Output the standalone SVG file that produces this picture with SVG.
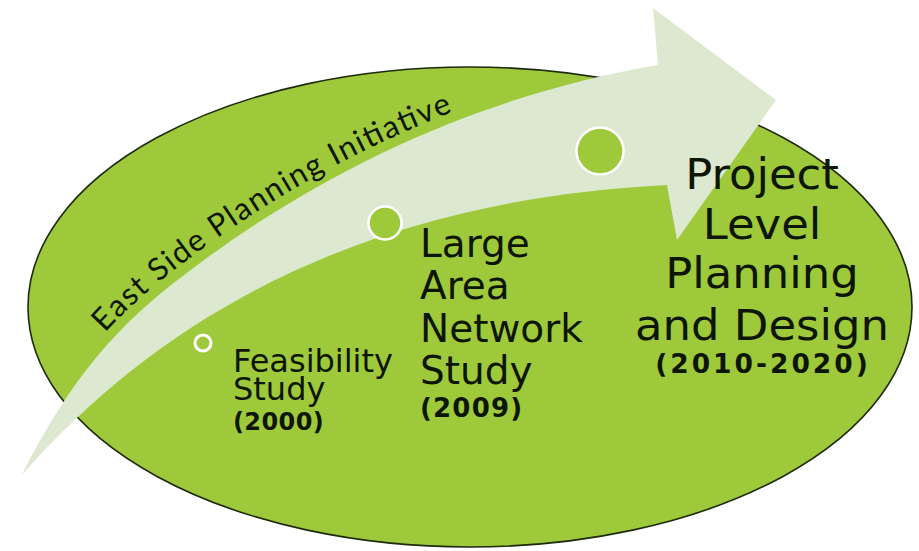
<svg xmlns="http://www.w3.org/2000/svg" xmlns:xlink="http://www.w3.org/1999/xlink" width="919" height="551" viewBox="0 0 919 551">
  <style>
    .lbl { font-family: "DejaVu Sans", Verdana, sans-serif; fill: #0d1505; }
    .yr { font-family: "DejaVu Sans", Verdana, sans-serif; font-weight: bold; fill: #0d1505; }
    .dot { fill: #9ec93b; stroke: #ffffff; }
    .curve { font-family: Lato, "Open Sans", sans-serif; fill: #0d1505; font-size: 31px; }
  </style>
  <defs>
    <path id="textcurve" d="M 13,470.5 C 73,350.5 134,299.4 194,255 C 344,144 506,80.6 656,55"/>
  </defs>
  <rect x="0" y="0" width="919" height="551" fill="#ffffff"/>
  <g id="background">
    <ellipse cx="470" cy="307" rx="442" ry="240" fill="#9ec93b" stroke="#1e2a0c" stroke-width="1.6"/>
  </g>
  <g id="connectors">
    <path id="arrow" d="M 22,475 C 82,355 140,307.4 200,263 C 350,152 508,90.5 658,65 L 653,8 L 776,100 L 677,240 L 667,185 C 417,197.5 192,281 22,475 Z" fill="#dde8d1"/>
  </g>
  <g id="arrow-label">
    <text class="curve"><textPath xlink:href="#textcurve" startOffset="166" textLength="415" lengthAdjust="spacing">East Side Planning Initiative</textPath></text>
  </g>
  <g id="node-feasibility">
    <circle class="dot" cx="203" cy="343" r="8" stroke-width="3"/>
    <text class="lbl" font-size="32"><tspan x="233" y="372">Feasibility</tspan><tspan x="233" y="400">Study</tspan></text>
    <text class="yr" font-size="24" x="233" y="430" letter-spacing="0.4">(2000)</text>
  </g>
  <g id="node-network">
    <circle class="dot" cx="385" cy="223" r="16.5" stroke-width="2.5"/>
    <text class="lbl" font-size="39"><tspan x="420" y="257">Large</tspan><tspan x="420" y="299">Area</tspan><tspan x="420" y="342">Network</tspan><tspan x="420" y="384">Study</tspan></text>
    <text class="yr" font-size="26" x="420" y="417" letter-spacing="1.2">(2009)</text>
  </g>
  <g id="node-project">
    <circle class="dot" cx="600" cy="151" r="23.5" stroke-width="2.5"/>
    <g transform="translate(762,0) scale(1.07,1) translate(-762,0)">
      <text class="lbl" font-size="42" text-anchor="middle"><tspan x="762" y="189">Project</tspan><tspan x="762" y="239">Level</tspan><tspan x="762" y="288">Planning</tspan><tspan x="762" y="340">and Design</tspan></text>
    </g>
    <text class="yr" font-size="26.5" x="763" y="373" text-anchor="middle" letter-spacing="3">(2010-2020)</text>
  </g>
</svg>
